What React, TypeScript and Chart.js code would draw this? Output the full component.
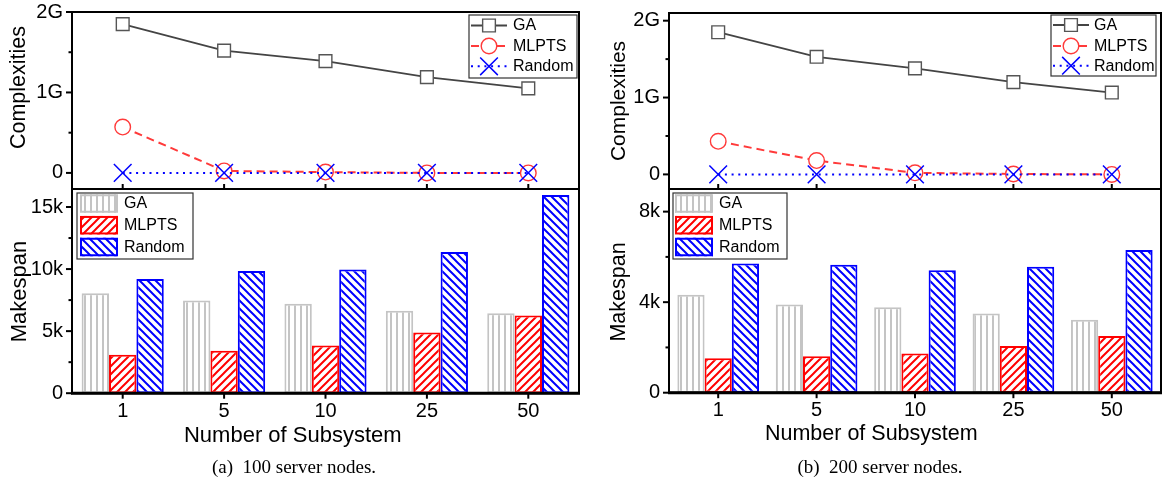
import React, { useEffect, useRef } from 'react';
import { Chart, registerables } from 'chart.js';
Chart.register(...registerables);

const FONT = '"Liberation Sans", Arial, Helvetica, sans-serif';
Chart.defaults.font.family = FONT;

// ---------- data ----------
const categories = ['1', '5', '10', '25', '50'];
const seriesNames = ['GA', 'MLPTS', 'Random'];

// (a) 100 server nodes — complexities in G
const complexityGA_a = [1.85, 1.52, 1.39, 1.19, 1.05];
const complexityMLPTS_a = [0.57, 0.025, 0.01, 0.0, 0.0];
const complexityRandom_a = [0, 0, 0, 0, 0];
// (a) makespan
const makespanGA_a = [8060, 7470, 7200, 6640, 6450];
const makespanMLPTS_a = [3090, 3410, 3840, 4890, 6260];
const makespanRandom_a = [9190, 9840, 9970, 11370, 15970];

// (b) 200 server nodes — complexities in G
const complexityGA_b = [1.85, 1.53, 1.38, 1.2, 1.065];
const complexityMLPTS_b = [0.43, 0.18, 0.02, 0.005, 0.0];
const complexityRandom_b = [0, 0, 0, 0, 0];
// (b) makespan
const makespanGA_b = [4330, 3900, 3770, 3500, 3220];
const makespanMLPTS_b = [1520, 1610, 1730, 2060, 2510];
const makespanRandom_b = [5710, 5650, 5410, 5560, 6300];

// tick values / labels
const complexityTicks = [0, 1, 2];
const complexityTickLabels = ['0', '1G', '2G'];
const makespanTicksA = [0, 5000, 10000, 15000];
const makespanTickLabelsA = ['0', '5k', '10k', '15k'];
const makespanTicksB = [0, 4000, 8000];
const makespanTickLabelsB = ['0', '4k', '8k'];

// ---------- helpers ----------
type Area = { left: number; right: number; top: number; bottom: number };
type Legend = { x: number; y: number; w: number; h: number; rows: number[]; sx0: number; sx1: number; tx: number };
type Spec = {
  kind: 'line' | 'bar';
  legend: Legend;
  yTitle: { text: string; x: number; y: number; size: number };
  xTitle?: { text: string; x: number; y: number; size: number };
};

function makePattern(kind: 'v' | 'fwd' | 'back', color: string): CanvasPattern {
  const c = document.createElement('canvas');
  const ctx = c.getContext('2d')!;
  if (kind === 'v') {
    c.width = 6; c.height = 6;
    ctx.fillStyle = '#fff'; ctx.fillRect(0, 0, 6, 6);
    ctx.fillStyle = color; ctx.fillRect(0, 0, 2, 6);
  } else {
    const s = 8;
    c.width = s; c.height = s;
    ctx.fillStyle = '#fff'; ctx.fillRect(0, 0, s, s);
    ctx.strokeStyle = color; ctx.lineWidth = 2;
    ctx.beginPath();
    if (kind === 'fwd') {
      ctx.moveTo(-2, s + 2); ctx.lineTo(s + 2, -2);
      ctx.moveTo(-2, 2); ctx.lineTo(2, -2);
      ctx.moveTo(s - 2, s + 2); ctx.lineTo(s + 2, s - 2);
    } else {
      ctx.moveTo(-2, -2); ctx.lineTo(s + 2, s + 2);
      ctx.moveTo(s - 2, -2); ctx.lineTo(s + 2, 2);
      ctx.moveTo(-2, s - 2); ctx.lineTo(2, s + 2);
    }
    ctx.stroke();
  }
  return ctx.createPattern(c, 'repeat')!;
}

function drawMarker(ctx: CanvasRenderingContext2D, ds: any, x: number, y: number) {
  const r = ds.pointRadius;
  ctx.save();
  ctx.setLineDash([]);
  ctx.lineWidth = ds.pointBorderWidth;
  ctx.strokeStyle = ds.pointBorderColor;
  ctx.fillStyle = ds.pointBackgroundColor;
  ctx.beginPath();
  if (ds.pointStyle === 'rect') {
    const s = Math.SQRT1_2 * r;
    ctx.rect(x - s, y - s, 2 * s, 2 * s);
    ctx.fill(); ctx.stroke();
  } else if (ds.pointStyle === 'circle') {
    ctx.arc(x, y, r, 0, Math.PI * 2);
    ctx.fill(); ctx.stroke();
  } else {
    const d = r * Math.SQRT1_2;
    ctx.moveTo(x - d, y - d); ctx.lineTo(x + d, y + d);
    ctx.moveTo(x + d, y - d); ctx.lineTo(x - d, y + d);
    ctx.stroke();
  }
  ctx.restore();
}

function makeDeco(spec: Spec) {
  return {
    id: 'deco',
    afterDraw(chart: any) {
      const { ctx, chartArea: a } = chart;
      const ys = chart.scales.y;
      const xs = chart.scales.x;
      const seg = (x0: number, y0: number, x1: number, y1: number) => {
        ctx.beginPath(); ctx.moveTo(x0, y0); ctx.lineTo(x1, y1); ctx.stroke();
      };
      ctx.save();
      ctx.setLineDash([]);
      ctx.strokeStyle = '#000';
      ctx.lineWidth = 2;
      ctx.strokeRect(a.left, a.top, a.right - a.left, a.bottom - a.top);
      if (spec.kind === 'bar') {
        ctx.lineWidth = 3;
        seg(a.left - 1, a.bottom, a.right + 1, a.bottom);
      }
      // y ticks (major + minor, outward)
      ctx.lineWidth = 2;
      const vals: number[] = ys.ticks.map((t: any) => t.value);
      vals.forEach((v) => {
        const p = ys.getPixelForValue(v);
        seg(a.left - 6, p, a.left, p);
      });
      const step = vals[1] - vals[0];
      for (let v = vals[0] - step / 2; v <= ys.max + 1e-9; v += step) {
        if (v < ys.min - 1e-9) continue;
        const p = ys.getPixelForValue(v);
        seg(a.left - 3.5, p, a.left, p);
      }
      // x ticks
      categories.forEach((_, i) => {
        const p = xs.getPixelForValue(i);
        if (spec.kind === 'line') seg(p, a.bottom, p, a.bottom - 5);
        else seg(p, a.bottom, p, a.bottom + 5.5);
      });
      // legend
      const L = spec.legend;
      ctx.fillStyle = '#fff';
      ctx.fillRect(L.x, L.y, L.w, L.h);
      ctx.strokeStyle = '#333';
      ctx.lineWidth = 1.2;
      ctx.strokeRect(L.x, L.y, L.w, L.h);
      ctx.font = '16px ' + FONT;
      ctx.textBaseline = 'middle';
      ctx.textAlign = 'left';
      chart.data.datasets.forEach((ds: any, i: number) => {
        const ry = L.rows[i];
        if (spec.kind === 'line') {
          ctx.save();
          ctx.strokeStyle = ds.borderColor;
          ctx.lineWidth = ds.borderWidth;
          ctx.setLineDash(ds.borderDash || []);
          seg(L.sx0, ry, L.sx1, ry);
          ctx.restore();
          drawMarker(ctx, ds, (L.sx0 + L.sx1) / 2, ry);
        } else {
          const h = 18.5;
          ctx.save();
          ctx.fillStyle = ds.backgroundColor;
          ctx.fillRect(L.sx0, ry - h / 2, L.sx1 - L.sx0, h);
          ctx.strokeStyle = ds.borderColor;
          ctx.lineWidth = 2;
          ctx.strokeRect(L.sx0 + 1, ry - h / 2 + 1, L.sx1 - L.sx0 - 2, h - 2);
          ctx.restore();
        }
        ctx.fillStyle = '#000';
        ctx.fillText(ds.label, L.tx, ry + 0.5);
      });
      // titles
      ctx.fillStyle = '#000';
      const yt = spec.yTitle;
      ctx.save();
      ctx.translate(yt.x, yt.y);
      ctx.rotate(-Math.PI / 2);
      ctx.font = yt.size + 'px ' + FONT;
      ctx.textAlign = 'center';
      ctx.textBaseline = 'middle';
      ctx.fillText(yt.text, 0, 0);
      ctx.restore();
      if (spec.xTitle) {
        const xt = spec.xTitle;
        ctx.font = xt.size + 'px ' + FONT;
        ctx.textAlign = 'center';
        ctx.textBaseline = 'alphabetic';
        ctx.fillText(xt.text, xt.x, xt.y);
      }
      ctx.restore();
    },
  };
}

function baseScales(area: Area, w: number, h: number, yMin: number, yMax: number, yTicks: number[], yLabels: string[], showX: boolean, offset: boolean) {
  return {
    x: {
      type: 'category',
      offset,
      grid: { display: false, drawTicks: false },
      border: { display: false },
      ticks: { display: showX, color: '#000', font: { size: 20 }, padding: 6, maxRotation: 0, autoSkip: false },
      afterFit: (s: any) => {
        s.height = h - area.bottom;
        s.paddingLeft = 0; s.paddingRight = 0; s.paddingTop = 0; s.paddingBottom = 0;
      },
    },
    y: {
      type: 'linear',
      min: yMin,
      max: yMax,
      grid: { display: false, drawTicks: false },
      border: { display: false },
      ticks: {
        color: '#000',
        font: { size: 20 },
        padding: 9,
        callback: (_v: any, i: number) => yLabels[i],
      },
      afterBuildTicks: (s: any) => { s.ticks = yTicks.map((v) => ({ value: v })); },
      afterFit: (s: any) => {
        s.width = area.left;
        s.paddingLeft = 0; s.paddingRight = 0; s.paddingTop = 0; s.paddingBottom = 0;
      },
    },
  };
}

function lineConfig(ga: number[], ml: number[], rd: number[], yMin: number, yMax: number, area: Area, w: number, h: number, spec: Spec): any {
  return {
    type: 'line',
    data: {
      labels: categories,
      datasets: [
        {
          label: seriesNames[0], data: ga, order: 2,
          borderColor: '#444444', borderWidth: 1.8, borderDash: [],
          pointStyle: 'rect', pointRadius: 9, pointBorderWidth: 1.4,
          pointBorderColor: '#555555', pointBackgroundColor: '#ffffff',
        },
        {
          label: seriesNames[1], data: ml, order: 1,
          borderColor: '#ff3a3a', borderWidth: 2, borderDash: [8, 5],
          pointStyle: 'circle', pointRadius: 7.8, pointBorderWidth: 1.4,
          pointBorderColor: '#ff3a3a', pointBackgroundColor: '#ffffff',
        },
        {
          label: seriesNames[2], data: rd, order: 0,
          borderColor: '#0000ff', borderWidth: 2, borderDash: [2, 4.7],
          pointStyle: 'crossRot', pointRadius: 12.5, pointBorderWidth: 1.5,
          pointBorderColor: '#0000ff', pointBackgroundColor: '#0000ff',
        },
      ],
    },
    options: {
      animation: false,
      responsive: false,
      maintainAspectRatio: false,
      events: [],
      layout: { autoPadding: false, padding: { left: 0, top: area.top, right: w - area.right, bottom: 0 } },
      elements: { line: { tension: 0, fill: false } },
      plugins: { legend: { display: false }, tooltip: { enabled: false }, title: { display: false } },
      scales: baseScales(area, w, h, yMin, yMax, complexityTicks, complexityTickLabels, false, true),
    },
    plugins: [makeDeco(spec)],
  };
}

function barConfig(ga: number[], ml: number[], rd: number[], yMax: number, yTicks: number[], yLabels: string[], catPct: number, area: Area, w: number, h: number, spec: Spec): any {
  return {
    type: 'bar',
    data: {
      labels: categories,
      datasets: [
        { label: seriesNames[0], data: ga, backgroundColor: makePattern('v', '#c4c4c4'), borderColor: '#c4c4c4', borderWidth: 2, borderSkipped: false },
        { label: seriesNames[1], data: ml, backgroundColor: makePattern('fwd', '#ff0000'), borderColor: '#ff0000', borderWidth: 2, borderSkipped: false },
        { label: seriesNames[2], data: rd, backgroundColor: makePattern('back', '#0000ff'), borderColor: '#0000ff', borderWidth: 2, borderSkipped: false },
      ],
    },
    options: {
      animation: false,
      responsive: false,
      maintainAspectRatio: false,
      events: [],
      barPercentage: 1,
      categoryPercentage: catPct,
      layout: { autoPadding: false, padding: { left: 0, top: area.top, right: w - area.right, bottom: 0 } },
      plugins: { legend: { display: false }, tooltip: { enabled: false }, title: { display: false } },
      scales: baseScales(area, w, h, 0, yMax, yTicks, yLabels, true, true),
    },
    plugins: [makeDeco(spec)],
  };
}

function ChartCanvas({ x, y, w, h, build }: { x: number; y: number; w: number; h: number; build: () => any }) {
  const ref = useRef<HTMLCanvasElement>(null);
  useEffect(() => {
    const chart = new Chart(ref.current!, build());
    return () => chart.destroy();
  }, []);
  return (
    <canvas
      ref={ref}
      width={w}
      height={h}
      style={{ position: 'absolute', left: x, top: y, width: w, height: h }}
    />
  );
}

const captionStyle: React.CSSProperties = {
  position: 'absolute',
  top: 457,
  width: 300,
  textAlign: 'center',
  fontFamily: '"Liberation Serif", "Times New Roman", serif',
  fontSize: 19,
  lineHeight: '20px',
  whiteSpace: 'pre',
  color: '#000',
};

export default function App() {
  const LW = 590, LH = 195, BH = 293;
  const RW = 572;
  const areaAL: Area = { left: 72, right: 579, top: 12, bottom: 189 };
  const areaAB: Area = { left: 72, right: 579, top: 0, bottom: 204.2 };
  const areaBL: Area = { left: 79, right: 571, top: 13, bottom: 189 };
  const areaBB: Area = { left: 79, right: 571, top: 0, bottom: 203.7 };

  const lineLegendA: Legend = { x: 469, y: 15, w: 108, h: 63, rows: [25.5, 46, 66.3], sx0: 471, sx1: 507, tx: 513 };
  const lineLegendB: Legend = { x: 461, y: 15, w: 105, h: 61, rows: [25, 46, 65.7], sx0: 463, sx1: 499, tx: 504 };
  const barLegendA: Legend = { x: 77, y: 4, w: 116, h: 66, rows: [14.5, 36.2, 58], sx0: 80, sx1: 118, tx: 124 };
  const barLegendB: Legend = { x: 83, y: 4, w: 114, h: 66, rows: [14.5, 36.2, 58], sx0: 85, sx1: 123, tx: 129 };

  return (
    <div style={{ position: 'absolute', left: 0, top: 0, width: 1162, height: 482, background: '#fff', overflow: 'hidden' }}>
      <ChartCanvas x={0} y={0} w={LW} h={LH} build={() => lineConfig(complexityGA_a, complexityMLPTS_a, complexityRandom_a, -0.2, 2, areaAL, LW, LH, {
        kind: 'line', legend: lineLegendA, yTitle: { text: 'Complexities', x: 19.5, y: 87.5, size: 21.5 },
      })} />
      <ChartCanvas x={0} y={189} w={LW} h={BH} build={() => barConfig(makespanGA_a, makespanMLPTS_a, makespanRandom_a, 16450, makespanTicksA, makespanTickLabelsA, 0.81, areaAB, LW, BH, {
        kind: 'bar', legend: barLegendA, yTitle: { text: 'Makespan', x: 19.5, y: 102.5, size: 22 },
        xTitle: { text: 'Number of Subsystem', x: 292.8, y: 252.7, size: 22 },
      })} />
      <ChartCanvas x={590} y={0} w={RW} h={LH} build={() => lineConfig(complexityGA_b, complexityMLPTS_b, complexityRandom_b, -0.19, 2.1, areaBL, RW, LH, {
        kind: 'line', legend: lineLegendB, yTitle: { text: 'Complexities', x: 29, y: 101, size: 21 },
      })} />
      <ChartCanvas x={590} y={189} w={RW} h={BH} build={() => barConfig(makespanGA_b, makespanMLPTS_b, makespanRandom_b, 9000, makespanTicksB, makespanTickLabelsB, 0.83, areaBB, RW, BH, {
        kind: 'bar', legend: barLegendB, yTitle: { text: 'Makespan', x: 29, y: 103, size: 21.5 },
        xTitle: { text: 'Number of Subsystem', x: 281.3, y: 250.5, size: 21.5 },
      })} />
      <div style={{ ...captionStyle, left: 294 - 150 }}>{'(a)  100 server nodes.'}</div>
      <div style={{ ...captionStyle, left: 880 - 150 }}>{'(b)  200 server nodes.'}</div>
    </div>
  );
}
